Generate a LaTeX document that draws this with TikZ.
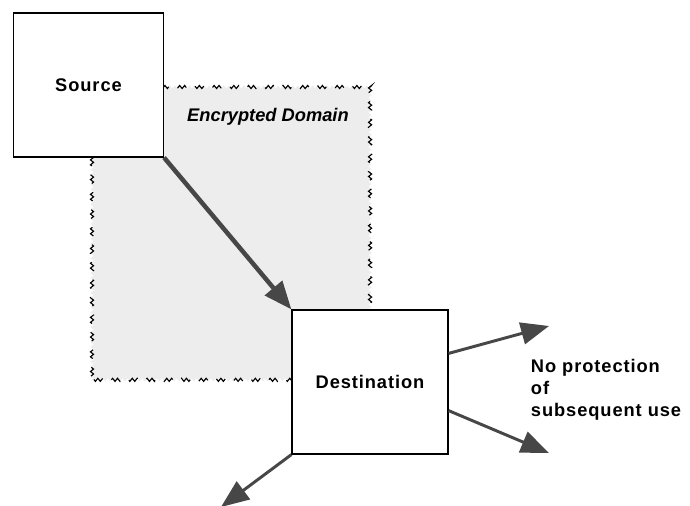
\documentclass[tikz,border=0pt]{standalone}
\usepackage{fontspec}
\setmainfont{Liberation Sans}
\usetikzlibrary{arrows.meta,decorations.pathmorphing,positioning}

\begin{document}
\begin{tikzpicture}[x=0.025cm, y=-0.025cm, >={Triangle[length=7mm, width=5.5mm]},
  every node/.style={font=\bfseries\fontsize{13}{15.5}\selectfont\addfontfeature{LetterSpace=5}},
  party/.style={draw, thick, fill=white, minimum width=3.75cm, minimum height=3.6cm},
  flow/.style={->, draw=black!72, line width=2.1pt},
  cryptzone/.style={fill=black!7, draw, thick, dash pattern=on 10pt off 10pt,
    decorate, decoration={snake, amplitude=1.1pt, segment length=3.5pt}}]
\useasboundingbox (0,0) rectangle (690,506);
% shaded region behind the two parties
\path[cryptzone] (92,87) rectangle (370,380);
\node[party] (Source) at (88.5,85) {Source};
\node[party, minimum width=3.9cm] (Destination) at (370,382) {Destination};
\node[font=\bfseries\itshape\fontsize{13}{15.5}\selectfont] (Domain) at (268,117) {Encrypted Domain};
\node[align=left, anchor=west] (Note) at (526,390) {No protection\\of\\subsequent use};
\coordinate (Out1) at (549,326);
\coordinate (Out2) at (549,453);
\coordinate (Out3) at (221,507);
\draw[flow, line width=3.2pt] (Source.south east) -- (Destination.north west);
\draw[flow] (Destination.20) -- (Out1);
\draw[flow] (Destination.-20) -- (Out2);
\draw[flow] (Destination.south west) -- (Out3);
\end{tikzpicture}
\end{document}
